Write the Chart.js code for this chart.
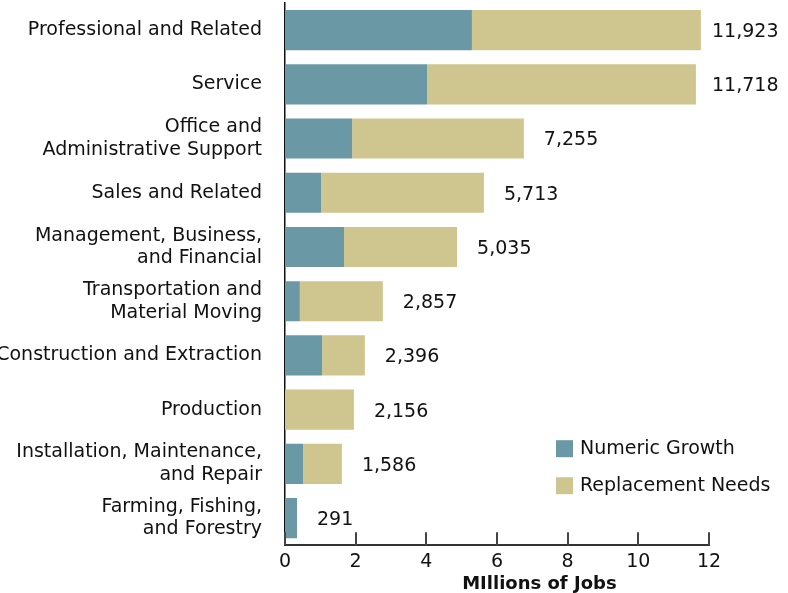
<!DOCTYPE html>
<html>
<head>
<meta charset="utf-8">
<script src="https://cdn.jsdelivr.net/npm/chart.js@4.4.1/dist/chart.umd.min.js"></script>
<style>
    html, body { margin: 0; padding: 0; background: #fff; }
    #wrap { width: 788px; height: 593px; }
</style>
</head>
<body>
<div id="wrap"><canvas id="chart-jobs"></canvas></div>
<script>
// occupation groups, top to bottom
var categories = [
    'Professional and Related',
    'Service',
    ['Office and', 'Administrative Support'],
    'Sales and Related',
    ['Management, Business,', 'and Financial'],
    ['Transportation and', 'Material Moving'],
    'Construction and Extraction',
    'Production',
    ['Installation, Maintenance,', 'and Repair'],
    ['Farming, Fishing,', 'and Forestry']
];

// millions of jobs
var numericGrowth = [5.29, 4.02, 1.90, 1.02, 1.67, 0.42, 1.05, 0, 0.51, 0.34];
var replacementNeeds = [6.48, 7.61, 4.86, 4.61, 3.20, 2.35, 1.21, 1.95, 1.10, 0];

// printed totals (thousands)
var totalLabels = ['11,923', '11,718', '7,255', '5,713', '5,035', '2,857', '2,396', '2,156', '1,586', '291'];

var xMin = 0;
var xMax = 12;
var xStep = 2;
var axisTitle = 'MIllions of Jobs';

var FONT = "'DejaVu Sans', sans-serif";
var TEXT = '#111111';

Chart.defaults.font.family = FONT;
Chart.defaults.color = TEXT;

// tick marks drawn upward from the x axis
var innerTicks = {
    id: 'innerTicks',
    afterDraw: function (chart) {
        var ctx = chart.ctx;
        var xs = chart.scales.x;
        var bottom = chart.chartArea.bottom;
        ctx.save();
        ctx.strokeStyle = '#444444';
        ctx.lineWidth = 2;
        for (let i = 0; i < xs.ticks.length; i++) {
            var px = Math.round(xs.getPixelForTick(i));
            ctx.beginPath();
            ctx.moveTo(px, bottom);
            ctx.lineTo(px, bottom - 13);
            ctx.stroke();
        }
        ctx.restore();
    }
};

// total printed to the right of each stack
var totalsLabels = {
    id: 'totalsLabels',
    afterDatasetsDraw: function (chart) {
        var ctx = chart.ctx;
        var last = chart.getDatasetMeta(chart.data.datasets.length - 1);
        ctx.save();
        ctx.font = '19px ' + FONT;
        ctx.fillStyle = TEXT;
        ctx.textAlign = 'left';
        ctx.textBaseline = 'middle';
        last.data.forEach(function (bar, i) {
            var x = Math.min(bar.x + 20, chart.chartArea.right + 3);
            ctx.fillText(totalLabels[i], x, bar.y + 2);
        });
        ctx.restore();
    }
};

// legend inside the plot, lower right
var boxLegend = {
    id: 'boxLegend',
    afterDraw: function (chart) {
        var ctx = chart.ctx;
        var area = chart.chartArea;
        var left = area.right - 153;
        var top = area.bottom - 105;
        ctx.save();
        ctx.font = '19px ' + FONT;
        ctx.textAlign = 'left';
        ctx.textBaseline = 'middle';
        chart.data.datasets.forEach(function (ds, i) {
            var y = top + i * 37;
            ctx.fillStyle = ds.backgroundColor;
            ctx.fillRect(left, y, 17, 17);
            ctx.fillStyle = TEXT;
            ctx.fillText(ds.label, left + 24, y + 9);
        });
        ctx.restore();
    }
};

// axis title, set right of centre as in the source
var axisTitlePlugin = {
    id: 'axisTitlePlugin',
    afterDraw: function (chart) {
        var ctx = chart.ctx;
        var area = chart.chartArea;
        ctx.save();
        ctx.font = 'bold 18px ' + FONT;
        ctx.fillStyle = TEXT;
        ctx.textAlign = 'center';
        ctx.textBaseline = 'middle';
        ctx.fillText(axisTitle, area.left + (area.right - area.left) * 0.6, chart.height - 9);
        ctx.restore();
    }
};

const jobs_context = document.getElementById('chart-jobs').getContext('2d');
var jobs_data = {
    labels: categories,
    datasets: [{
        label: 'Numeric Growth',
        data: numericGrowth,
        backgroundColor: '#6a98a4',
        borderWidth: 0,
        barPercentage: 0.74,
        categoryPercentage: 1
    }, {
        label: 'Replacement Needs',
        data: replacementNeeds,
        backgroundColor: '#cfc68f',
        borderWidth: 0,
        barPercentage: 0.74,
        categoryPercentage: 1
    }]
};

var jobsChart = new Chart(jobs_context, {
    type: 'bar',
    data: jobs_data,
    plugins: [innerTicks, totalsLabels, boxLegend, axisTitlePlugin],
    options: {
        indexAxis: 'y',
        responsive: true,
        maintainAspectRatio: false,
        animation: false,
        layout: { padding: { top: 3, right: 79, bottom: 15, left: 0 } },
        plugins: {
            legend: { display: false },
            tooltip: { enabled: false }
        },
        scales: {
            x: {
                stacked: true,
                min: xMin,
                max: xMax,
                grid: { display: false, drawTicks: false },
                border: { display: true, color: '#333333', width: 2 },
                ticks: {
                    stepSize: xStep,
                    padding: 5,
                    color: TEXT,
                    font: { size: 19 }
                },
                afterFit: function (scale) {
                    scale.paddingLeft = 0;
                    scale.paddingRight = 0;
                }
            },
            y: {
                stacked: true,
                grid: { display: false },
                border: { display: true, color: '#111111', width: 1.5 },
                ticks: {
                    padding: 15,
                    autoSkip: false,
                    color: TEXT,
                    font: { size: 19, lineHeight: 1.2 }
                },
                afterFit: function (scale) {
                    scale.width = 285;
                    scale.paddingTop = 0;
                    scale.paddingBottom = 0;
                }
            }
        }
    }
});
</script>
</body>
</html>
